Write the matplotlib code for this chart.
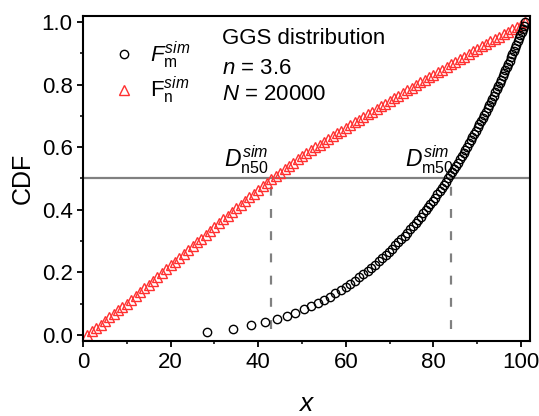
import matplotlib
matplotlib.use('Agg')
import matplotlib.pyplot as plt

plt.rcParams['font.family'] = ['Liberation Sans', 'DejaVu Sans']
plt.rcParams['mathtext.fontset'] = 'custom'
plt.rcParams['mathtext.rm'] = 'Liberation Sans'
plt.rcParams['mathtext.it'] = 'Liberation Sans:italic'

# number-weighted CDF (red triangles), one point per integer x
xn = list(range(1, 102))
Fn = [0.000, 0.011, 0.022, 0.033, 0.044, 0.056, 0.067, 0.078, 0.089, 0.100,
      0.112, 0.124, 0.137, 0.149, 0.161, 0.173, 0.185, 0.198, 0.210, 0.222,
      0.234, 0.247, 0.259, 0.271, 0.284, 0.296, 0.308, 0.320, 0.333, 0.345,
      0.357, 0.369, 0.381, 0.392, 0.404, 0.416, 0.428, 0.440, 0.451, 0.463,
      0.475, 0.487, 0.498, 0.509, 0.519, 0.530, 0.540, 0.551, 0.561, 0.572,
      0.581, 0.590, 0.599, 0.608, 0.617, 0.626, 0.635, 0.644, 0.653, 0.662,
      0.671, 0.679, 0.688, 0.696, 0.705, 0.714, 0.722, 0.731, 0.739, 0.748,
      0.756, 0.765, 0.773, 0.782, 0.790, 0.798, 0.807, 0.815, 0.824, 0.832,
      0.840, 0.848, 0.857, 0.865, 0.873, 0.881, 0.889, 0.898, 0.906, 0.914,
      0.922, 0.930, 0.938, 0.945, 0.953, 0.961, 0.969, 0.977, 0.984, 0.992, 1.000]

# mass-weighted CDF (black circles)
xm = [28.3, 34.3, 38.3, 41.5, 44.2, 46.5, 48.5, 50.4, 52.0, 53.6,
      55.0, 56.4, 57.6, 58.8, 60.0, 61.0, 62.1, 63.1, 64.0, 65.0,
      65.8, 66.7, 67.5, 68.3, 69.1, 69.9, 70.6, 71.3, 72.0, 72.7,
      73.4, 74.0, 74.6, 75.3, 75.9, 76.5, 77.1, 77.6, 78.2, 78.7,
      79.3, 79.8, 80.3, 80.9, 81.4, 81.9, 82.4, 82.8, 83.3, 83.8,
      84.2, 84.7, 85.1, 85.6, 86.0, 86.5, 86.9, 87.3, 87.7, 88.1,
      88.5, 88.9, 89.3, 89.7, 90.1, 90.5, 90.9, 91.3, 91.6, 92.0,
      92.4, 92.7, 93.1, 93.4, 93.8, 94.1, 94.5, 94.8, 95.1, 95.5,
      95.8, 96.1, 96.4, 96.8, 97.1, 97.4, 97.7, 98.0, 98.3, 98.6,
      98.9, 99.2, 99.5, 99.8, 100.1, 100.4, 100.7, 101.0]
Fm = [0.010, 0.020, 0.031, 0.041, 0.051, 0.061, 0.071, 0.082, 0.092, 0.102,
      0.112, 0.122, 0.133, 0.143, 0.153, 0.163, 0.173, 0.184, 0.194, 0.204,
      0.214, 0.224, 0.235, 0.245, 0.255, 0.265, 0.275, 0.286, 0.296, 0.306,
      0.316, 0.326, 0.337, 0.347, 0.357, 0.367, 0.377, 0.388, 0.398, 0.408,
      0.418, 0.428, 0.439, 0.449, 0.459, 0.469, 0.479, 0.490, 0.500, 0.510,
      0.520, 0.530, 0.541, 0.551, 0.561, 0.571, 0.581, 0.592, 0.602, 0.612,
      0.622, 0.632, 0.643, 0.653, 0.663, 0.673, 0.683, 0.694, 0.704, 0.714,
      0.724, 0.734, 0.745, 0.755, 0.765, 0.775, 0.785, 0.796, 0.806, 0.816,
      0.826, 0.836, 0.847, 0.857, 0.867, 0.877, 0.887, 0.898, 0.908, 0.918,
      0.928, 0.938, 0.949, 0.959, 0.969, 0.979, 0.989, 1.000]

D_n50 = 43
D_m50 = 84

fig = plt.figure(figsize=(5.39, 4.16), dpi=100)
ax = fig.add_axes([0.154, 0.180, 0.829, 0.782])

# reference lines
ax.axhline(0.5, color='#808080', lw=1.6, zorder=1)
for d in (D_n50, D_m50):
    ax.plot([d, d], [0.02, 0.5], color='#808080', lw=1.6, dashes=(4, 6), zorder=1)

red = '#ff3030'
ax.plot(xm, Fm, 'o', ms=6, mfc='none', mec='black', mew=1.0,
        label=r'$F_{\mathrm{m}}^{sim}$', zorder=3)
ax.plot(xn, Fn, '^', ms=7, mfc='none', mec=red, mew=1.0,
        label=r'$\mathrm{F}_{\mathrm{n}}^{sim}$', zorder=2)

leg = ax.legend(loc='upper left', bbox_to_anchor=(0.04, 0.955), frameon=False,
                fontsize=16, handletextpad=0.5, labelspacing=0.2,
                borderaxespad=0.0, handlelength=1.3)

ax.text(31.8, 0.949, 'GGS distribution', fontsize=16, va='center')
ax.text(31.8, 0.852, r'$n$ = 3.6', fontsize=16, va='center')
ax.text(31.8, 0.768, r'$N$ = 20000', fontsize=16, va='center')

ax.text(42.3, 0.508, r'$D_{\mathrm{n50}}^{sim}$', fontsize=16.5, ha='right', va='bottom')
ax.text(84.6, 0.508, r'$D_{\mathrm{m50}}^{sim}$', fontsize=16.5, ha='right', va='bottom')

ax.set_xlim(0, 102)
ax.set_ylim(-0.02, 1.02)
ax.set_xticks([0, 20, 40, 60, 80, 100])
ax.set_xticks([10, 30, 50, 70, 90], minor=True)
ax.set_yticks([0.0, 0.2, 0.4, 0.6, 0.8, 1.0])
ax.set_yticks([0.1, 0.3, 0.5, 0.7, 0.9], minor=True)
ax.set_yticklabels(['0.0', '0.2', '0.4', '0.6', '0.8', '1.0'])
ax.tick_params(which='major', direction='out', length=4.5, width=1.3,
               labelsize=16, pad=3)
ax.tick_params(which='minor', direction='out', length=2.5, width=1.1)
for s in ax.spines.values():
    s.set_linewidth(1.5)

ax.set_xlabel(r'$x$', fontsize=19, labelpad=14)
ax.set_ylabel('CDF', fontsize=18, labelpad=5)

fig.savefig('out.png', dpi=100)
